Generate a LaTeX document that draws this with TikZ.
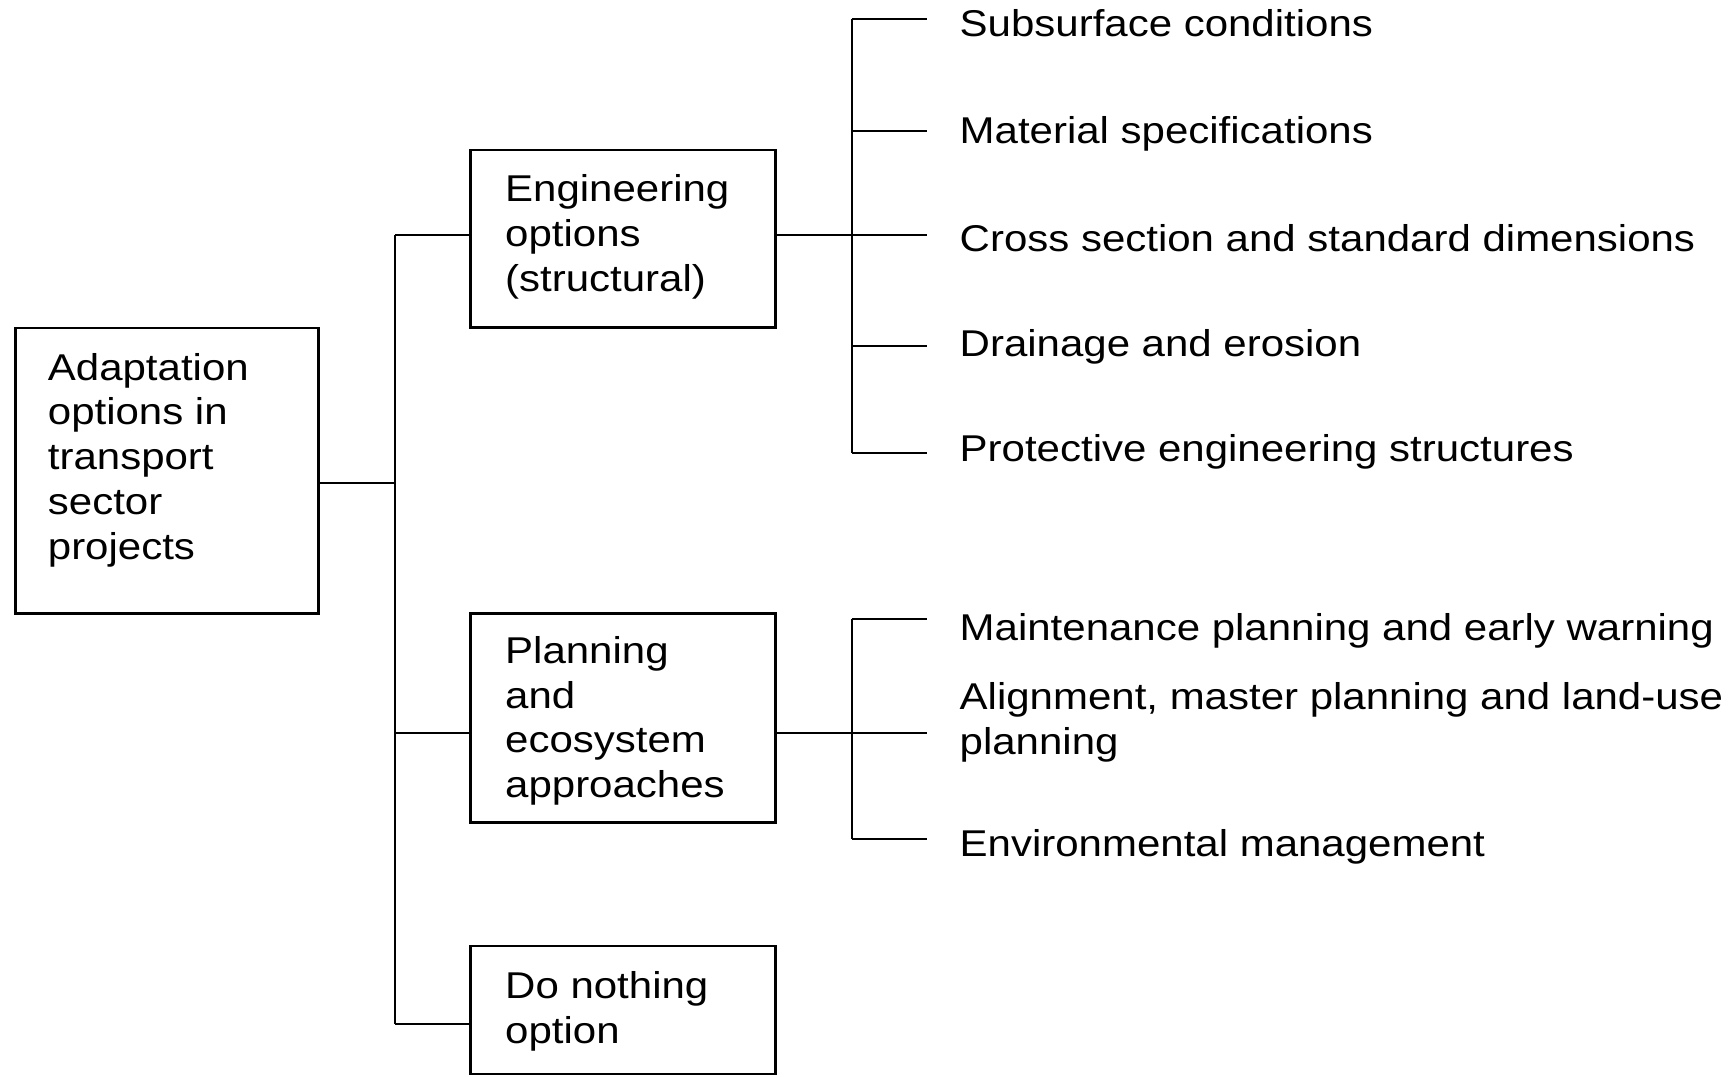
\documentclass[tikz,border=0pt]{standalone}
\usepackage{fontspec}
\setmainfont{Liberation Sans}[FakeStretch=1.126]
\begin{document}
\begin{tikzpicture}[x=1pt,y=-1pt,
  box/.style={draw=black,line width=2.6pt,rectangle,inner sep=0pt},
  conn/.style={draw=black,line width=2.3pt},
  lbl/.style={anchor=base west,inner sep=0pt,font=\fontsize{37.3}{44.8}\selectfont}]
\useasboundingbox (0,0) rectangle (1731,1076);
% boxes
\node[box,minimum width=303.4pt,minimum height=285.3pt] (main) at (167,470.7) {};
\node[box,minimum width=305pt,minimum height=177.3pt] (eng) at (623.2,238.7) {};
\node[box,minimum width=305pt,minimum height=209.4pt] (plan) at (623.2,718) {};
\node[box,minimum width=305pt,minimum height=128pt] (none) at (623.2,1010) {};
% box texts
\node[lbl] (maint) at (47.7,380) {\begin{tabular}[t]{@{}l@{}}Adaptation\\options in\\transport\\sector\\projects\end{tabular}};
\node[lbl] (engt) at (505,201.7) {\begin{tabular}[t]{@{}l@{}}Engineering\\options\\(structural)\end{tabular}};
\node[lbl] (plant) at (505,663.3) {\begin{tabular}[t]{@{}l@{}}Planning\\and\\ecosystem\\approaches\end{tabular}};
\node[lbl] (nonet) at (505,998.3) {\begin{tabular}[t]{@{}l@{}}Do nothing\\option\end{tabular}};
% main bus
\coordinate (j0) at (395,482.7);
\coordinate (je) at (395,235);
\coordinate (jp) at (395,733.3);
\coordinate (jn) at (395,1024);
\draw[conn] (main.east |- j0) -- (j0);
\draw[conn] (je) -- (jn);
\draw[conn] (je) -- (eng.west |- je);
\draw[conn] (jp) -- (plan.west |- jp);
\draw[conn] (jn) -- (none.west |- jn);
% engineering bus
\coordinate (eb) at (851.7,235);
\coordinate (e1) at (927.3,19.3);
\coordinate (e2) at (927.3,130.7);
\coordinate (e3) at (927.3,235);
\coordinate (e4) at (927.3,346);
\coordinate (e5) at (927.3,453.3);
\draw[conn] (eng.east |- eb) -- (eb);
\draw[conn] (e1 -| eb) -- (e5 -| eb);
\foreach \c in {e1,e2,e3,e4,e5} \draw[conn] (\c -| eb) -- (\c);
% planning bus
\coordinate (pb) at (851.7,733.3);
\coordinate (p1) at (927.3,618.8);
\coordinate (p2) at (927.3,733.3);
\coordinate (p3) at (927.3,839.3);
\draw[conn] (plan.east |- pb) -- (pb);
\draw[conn] (p1 -| pb) -- (p3 -| pb);
\foreach \c in {p1,p2,p3} \draw[conn] (\c -| pb) -- (\c);
% leaf texts
\node[lbl] (t1) at (959.5,36) {Subsurface conditions};
\node[lbl] (t2) at (959.5,143.4) {Material specifications};
\node[lbl] (t3) at (959.5,251) {Cross section and standard dimensions};
\node[lbl] (t4) at (959.5,356.7) {Drainage and erosion};
\node[lbl] (t5) at (959.5,461.7) {Protective engineering structures};
\node[lbl] (t6) at (959.5,640) {Maintenance planning and early warning};
\node[lbl] (t7) at (959.5,709.5) {\begin{tabular}[t]{@{}l@{}}Alignment, master planning and land-use\\planning\end{tabular}};
\node[lbl] (t8) at (959.5,856.7) {Environmental management};
\end{tikzpicture}
\end{document}
